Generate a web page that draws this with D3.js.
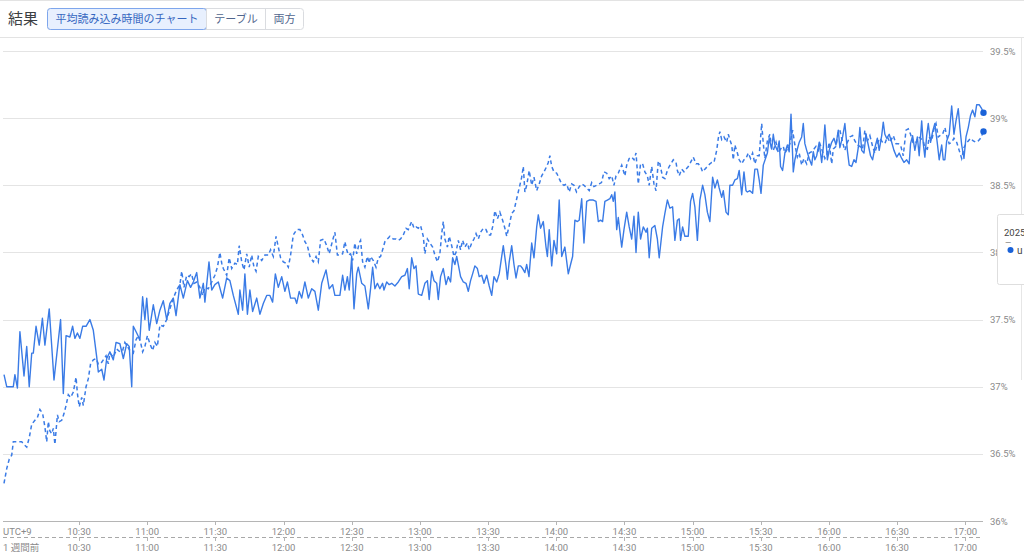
<!DOCTYPE html>
<html><head><meta charset="utf-8">
<script src="https://cdn.jsdelivr.net/npm/d3@7"></script>
<style>
html,body{margin:0;padding:0;background:#fff;overflow:hidden}
svg{display:block}
text{font-family:Roboto,"Noto Sans CJK JP",sans-serif}
</style></head><body>
<svg id="chart" width="1024" height="557"></svg>
<script>
const headerTitle = "結果";
const viewTabs = ["平均読み込み時間のチャート", "テーブル", "両方"];
const yTicks = [36, 36.5, 37, 37.5, 38, 38.5, 39, 39.5];
const xTickLabels = ["10:30","11:00","11:30","12:00","12:30","13:00","13:30","14:00","14:30","15:00","15:30","16:00","16:30","17:00"];
const timezoneLabel = "UTC+9";
const compareLabel = "1 週間前";
const legendYear = "2025";
const legendDash = "—";
const legendItem = "u";
const startTime = "09:57";
const endMinute = 431;
// [minutes after startTime, percent]
const currentSeries = [
[0,37.09],[1.2,37.00],[4.1,37.00],[4.8,37.09],[5.9,36.99],[7.0,37.41],[8.8,37.08],[10.0,37.30],[11.1,37.00],[12.2,37.25],[12.9,37.25],[14.1,37.45],[15.5,37.31],[16.9,37.51],[18.0,37.31],[19.9,37.58],[22.0,37.05],[24.9,37.50],[26.1,36.95],[27.3,37.38],[29.0,37.37],[30.2,37.45],[31.2,37.36],[32.3,37.40],[33.4,37.36],[34.6,37.45],[36.1,37.45],[37.8,37.50],[39.3,37.42],[40.8,37.22],[41.5,37.11],[43.0,37.13],[44.0,37.05],[45.2,37.21],[46.6,37.26],[48.1,37.20],[49.3,37.33],[51.0,37.32],[52.5,37.21],[54.0,37.32],[55.1,37.30],[56.2,37.00],[56.9,37.45],[58.4,37.40],[59.8,37.35],[61.0,37.67],[62.0,37.50],[62.8,37.66],[63.9,37.42],[65.7,37.61],[67.2,37.47],[68.6,37.57],[70.1,37.64],[71.6,37.50],[73.0,37.62],[74.5,37.66],[75.7,37.53],[77.4,37.76],[78.9,37.66],[80.7,37.79],[82.1,37.74],[83.3,37.78],[84.8,37.85],[86.2,37.66],[87.7,37.77],[88.4,37.63],[90.2,37.93],[91.4,37.72],[92.8,37.76],[94.3,37.78],[96.2,37.66],[98.0,37.81],[99.4,37.79],[100.9,37.68],[103.1,37.54],[103.8,37.72],[105.0,37.57],[106.0,37.84],[107.1,37.54],[108.2,37.72],[109.4,37.56],[111.2,37.66],[112.6,37.54],[114.1,37.62],[115.6,37.68],[117.0,37.68],[118.2,37.63],[119.4,37.84],[120.7,37.74],[122.2,37.82],[123.6,37.71],[124.7,37.78],[126.1,37.66],[128.0,37.66],[128.8,37.62],[129.9,37.71],[131.0,37.66],[132.4,37.78],[133.9,37.66],[135.4,37.73],[136.8,37.71],[138.3,37.57],[139.8,37.77],[141.7,37.87],[143.1,37.73],
[144.6,37.76],[145.6,37.68],[146.7,37.68],[147.8,37.68],[149.0,37.83],[150.0,37.72],[151.1,37.82],[151.9,37.72],[153.0,37.97],[154.0,37.58],[155.2,37.84],[155.9,37.89],[157.4,37.77],[158.8,37.75],[160.3,37.58],[161.3,37.73],[162.2,37.89],[163.2,37.73],[164.3,37.77],[165.4,37.73],[166.6,37.77],[167.2,37.72],[168.4,37.78],[169.5,37.76],[170.6,37.77],[172.0,37.75],[173.5,37.78],[175.0,37.82],[176.4,37.83],[177.5,37.88],[178.3,37.73],[179.4,37.96],[180.4,37.88],[181.3,37.90],[182.3,37.69],[183.8,37.68],[185.2,37.77],[186.3,37.79],[187.1,37.65],[188.2,37.86],[189.2,37.79],[190.4,37.77],[191.1,37.65],[192.1,37.82],[193.3,37.88],[194.5,37.76],[195.5,37.82],[196.5,37.78],[197.4,37.96],[198.4,37.91],[199.2,37.97],[199.9,37.91],[200.9,37.82],[202.1,37.78],[203.3,37.77],[204.3,37.71],[205.3,37.79],[206.2,37.84],[207.2,37.90],[208.3,37.88],[209.1,37.82],[210.2,37.83],[211.2,37.77],[212.4,37.83],[213.5,37.75],[214.6,37.68],[215.6,37.82],[216.8,37.78],[217.9,37.84],[219.0,37.97],[219.7,38.05],[220.9,37.90],[221.5,37.80],[222.3,37.93],[223.4,38.05],[224.4,37.91],[225.3,37.81],[226.3,37.90],[227.3,37.90],[228.2,37.88],[229.2,37.85],[230.0,37.91],[231.0,37.82],[232.2,38.07],[233.2,37.96],[234.4,38.19],[235.1,38.28],[236.1,38.18],[237.3,38.23],[238.5,38.04],[239.1,37.97],[239.9,38.17],[241.0,37.90],[242.0,38.09],[243.2,37.99],[244.3,38.39],[245.4,37.97],[246.8,38.04],[248.3,37.84],[249.3,37.91],[250.2,37.97],[251.2,38.24],[252.3,38.23],[253.1,38.24],[254.2,38.40],[255.2,38.07],[256.4,38.38],[257.5,38.39],[259.3,38.39],[260.5,38.38],[261.5,38.23],[262.5,38.24],[263.4,38.23],[264.4,38.38],[265.5,38.39],[266.6,38.40],[267.4,38.43],[268.1,38.38],[268.8,38.45],[269.6,38.17],[270.3,38.26],[271.8,38.04],[272.8,38.17],[274.0,38.30],[275.1,38.19],[276.2,38.10],[277.2,38.27],[278.1,38.00],[279.1,38.30],[280.1,38.10],[281.3,38.19],[282.5,38.15],[283.1,38.18],[283.9,37.96],[285.0,38.18],[286.4,38.20],[287.5,38.10],[288.3,37.96],
[289.8,38.19],[290.8,38.29],[291.9,38.39],[293.0,38.33],[294.2,38.34],[295.2,38.09],[296.3,38.24],[297.1,38.25],[297.7,38.09],[298.6,38.19],[299.6,38.12],[301.1,38.12],[302.1,38.38],[303.0,38.44],[304.0,38.34],[305.1,38.09],[306.2,38.39],[307.4,38.50],[308.4,38.43],[309.5,38.30],[310.6,38.23],[311.8,38.56],[312.8,38.48],[313.9,38.54],[314.7,38.48],[315.8,38.41],[316.5,38.46],[317.7,38.30],[318.7,38.28],[319.4,38.50],[320.6,38.50],[321.6,38.54],[322.7,38.55],[323.5,38.61],[324.6,38.43],[325.6,38.60],[326.5,38.46],[327.1,38.45],[328.2,38.46],[329.4,38.44],[330.4,38.62],[331.5,38.62],[332.3,38.54],[333.1,38.44],[334.1,38.65],[335.3,38.71],[335.9,38.74],[336.7,38.85],[337.8,38.77],[338.5,38.88],[339.2,38.80],[340.3,38.76],[341.1,38.83],[341.7,38.64],[342.6,38.61],[343.6,38.74],[344.7,38.80],[345.5,38.75],[346.3,39.03],[347.3,38.60],[348.0,38.69],[349.1,38.77],[349.9,38.82],[351.0,38.86],[351.7,38.96],[352.4,38.81],[353.2,38.76],[354.3,38.70],[355.4,38.65],[356.1,38.75],[356.8,38.69],[357.6,38.72],[358.7,38.82],[359.8,38.67],[360.5,38.78],[361.2,38.95],[362.3,38.69],[363.1,38.76],[364.2,38.82],[365.2,38.85],[366.1,38.80],[367.1,38.91],[367.8,38.78],[369.0,38.86],[370.0,38.96],[371.1,38.76],[371.9,38.65],[373.0,38.64],[374.0,38.69],[374.9,38.67],[375.9,38.78],[376.6,38.93],[377.4,38.76],[378.4,38.74],[379.3,38.88],[380.3,38.80],[381.3,38.72],[382.2,38.69],[383.2,38.78],[384.3,38.85],[385.1,38.76],[386.2,38.87],[386.9,38.97],[387.6,38.88],[388.4,38.85],[389.5,38.88],[390.6,38.82],[391.6,38.76],[392.8,38.71],[393.9,38.74],[395.0,38.70],[396.0,38.67],[397.2,38.69],[398.3,38.66],[398.9,38.81],[399.8,38.87],[400.8,38.76],[401.9,38.86],[402.7,38.72],[403.8,38.98],[404.5,38.81],[405.2,38.71],[406.0,38.87],[406.7,38.96],[407.7,38.82],[408.6,38.90],[409.6,38.96],[410.7,38.81],[411.5,38.69],[412.6,38.80],[413.3,38.69],[414.0,38.69],[414.8,38.83],[415.9,38.88],[417.0,39.09],[418.0,38.88],[418.9,38.98],[419.9,39.07],[420.6,38.93],[421.4,38.80],[422.4,38.70],[423.3,38.86],[424.3,38.93],[425.3,39.02],[426.2,39.06],[427.2,39.01],[428.0,39.10],[429.1,39.10],[430.2,39.07],[431,39.04]
];
const weekAgoSeries = [
[0,36.28],[1.2,36.39],[2.3,36.46],[3.4,36.49],[4.1,36.59],[6.3,36.59],[7.8,36.59],[8.8,36.57],[10.0,36.55],[11.1,36.62],[12.2,36.72],[13.6,36.75],[14.7,36.77],[15.8,36.83],[17.0,36.80],[18.0,36.70],[18.8,36.59],[19.5,36.74],[20.2,36.67],[21.0,36.65],[21.7,36.69],[22.4,36.57],[23.5,36.79],[24.3,36.74],[25.4,36.75],[26.4,36.80],[27.3,36.86],[28.3,36.94],[29.3,36.92],[30.5,36.96],[31.7,37.07],[32.3,36.95],[33.1,36.85],[34.2,36.92],[34.9,36.86],[36.1,37.00],[37.1,37.06],[38.1,37.17],[39.3,37.20],[40.5,37.21],[41.5,37.17],[42.5,37.17],[43.7,37.20],[44.9,37.23],[45.9,37.17],[46.6,37.25],[48.1,37.22],[49.6,37.28],[51.0,37.26],[52.2,37.27],[53.2,37.33],[54.3,37.30],[55.4,37.27],[56.9,37.25],[58.1,37.35],[59.1,37.38],[60.1,37.33],[61.0,37.26],[62.0,37.30],[63.1,37.38],[64.2,37.32],[65.4,37.27],[66.4,37.33],[67.5,37.30],[68.6,37.46],[70.1,37.45],[71.6,37.50],[73.0,37.58],[74.5,37.66],[76.0,37.72],[77.4,37.76],[78.2,37.86],[79.2,37.74],[80.4,37.83],[81.5,37.82],[82.5,37.84],[83.6,37.77],[84.8,37.78],[86.2,37.74],[87.4,37.68],[88.4,37.74],[89.9,37.73],[91.4,37.78],[92.8,37.83],[93.9,37.89],[95.0,38.00],[95.8,37.92],[96.5,37.88],[98.0,37.83],[99.1,37.96],[100.2,37.88],[101.6,37.92],[102.7,37.91],[103.5,38.05],[104.6,37.93],[105.6,37.87],[106.8,37.99],[107.9,37.89],[109.0,37.98],[110.0,37.89],[110.9,37.86],[111.9,37.97],[113.4,37.94],[114.8,37.98],[116.3,37.98],[117.3,38.02],[118.5,37.97],[119.7,38.12],[120.7,38.04],[121.7,37.96],[122.9,37.93],[124.1,37.92],[125.1,37.89],[126.1,37.98],[127.3,38.13],[128.8,38.17],[130.2,38.17],[131.4,38.13],[132.4,38.08],[133.5,38.05],[134.6,37.97],[136.1,37.93],[137.3,37.97],[138.3,37.93],[139.3,38.09],[140.8,38.10],[142.0,38.05],[143.1,37.99],
[144.6,38.09],[145.6,38.15],[146.7,37.98],[147.8,37.98],[149.0,37.99],[150.0,38.08],[150.8,38.02],[151.5,37.98],[152.5,37.99],[153.4,37.94],[154.4,38.07],[155.2,37.99],[156.3,38.07],[156.9,38.09],[157.8,37.93],[158.8,37.89],[159.9,37.97],[160.7,37.92],[161.3,37.97],[162.5,37.94],[163.7,37.89],[164.7,37.96],[165.7,37.97],[166.6,38.02],[167.6,38.08],[168.7,38.10],[169.8,38.12],[171.3,38.10],[172.5,38.10],[173.5,38.09],[174.5,38.10],[175.7,38.13],[176.9,38.18],[177.9,38.17],[178.6,38.20],[179.4,38.23],[180.4,38.18],[181.3,38.19],[182.3,38.18],[183.3,38.20],[184.5,38.12],[185.2,37.99],[186.3,38.10],[187.4,38.07],[188.6,38.04],[189.6,37.98],[190.7,37.93],[191.8,37.99],[192.6,38.14],[193.3,38.23],[194.0,38.10],[195.1,38.04],[195.9,38.12],[197.0,38.05],[198.0,37.97],[198.9,38.00],[199.9,38.09],[200.9,38.02],[201.8,38.09],[202.8,38.04],[203.9,38.07],[204.7,38.02],[205.8,38.07],[206.8,38.10],[207.7,38.14],[208.7,38.10],[209.7,38.15],[210.9,38.18],[212.1,38.17],[213.1,38.13],[214.1,38.13],[215.0,38.19],[216.0,38.31],[217.1,38.25],[218.2,38.30],[219.4,38.24],[220.4,38.18],[221.2,38.12],[222.3,38.20],[223.4,38.29],[224.4,38.31],[225.6,38.40],[226.7,38.48],[227.8,38.56],[228.5,38.64],[229.2,38.45],[230.0,38.50],[231.1,38.61],[232.2,38.50],[233.2,38.56],[234.4,38.46],[235.5,38.51],[236.6,38.57],[237.6,38.60],[238.8,38.64],[239.5,38.67],[240.2,38.72],[241.0,38.64],[242.0,38.60],[243.2,38.59],[244.3,38.55],[245.4,38.51],[246.4,38.50],[247.6,38.51],[248.7,38.45],[249.8,38.51],[250.8,38.50],[251.9,38.45],[253.1,38.49],[254.2,38.51],[255.2,38.50],[256.4,38.48],[257.5,38.46],[258.6,38.52],[259.6,38.49],[260.8,38.50],[261.9,38.51],[262.9,38.52],[264.0,38.60],[265.2,38.59],[266.3,38.55],[267.4,38.57],[268.4,38.50],[269.3,38.57],[270.3,38.59],[271.0,38.62],[271.8,38.65],[272.5,38.61],[273.2,38.57],[274.0,38.65],[275.1,38.70],[276.2,38.71],[277.2,38.69],[278.1,38.74],[279.1,38.51],[280.1,38.66],[281.0,38.66],[282.0,38.60],[283.1,38.57],[283.9,38.50],[285.0,38.64],[286.0,38.51],[286.9,38.46],[287.9,38.68],
[288.6,38.66],[289.8,38.56],[290.8,38.55],[291.9,38.61],[292.7,38.64],[293.8,38.67],[294.5,38.69],[295.7,38.67],[296.3,38.61],[297.1,38.57],[298.2,38.62],[299.2,38.60],[300.1,38.62],[301.1,38.64],[302.1,38.67],[303.3,38.71],[304.5,38.66],[305.5,38.66],[306.5,38.64],[307.4,38.60],[308.4,38.62],[309.5,38.64],[310.6,38.66],[311.4,38.67],[312.4,38.67],[313.6,38.76],[314.3,38.85],[315.0,38.90],[315.8,38.84],[316.8,38.86],[318.0,38.82],[318.7,38.88],[319.4,38.84],[320.2,38.80],[320.9,38.69],[321.6,38.80],[322.7,38.74],[323.5,38.69],[324.6,38.66],[325.6,38.69],[326.5,38.70],[327.5,38.74],[328.5,38.70],[329.4,38.74],[330.4,38.66],[331.5,38.72],[332.3,38.72],[333.4,38.96],[334.1,38.81],[334.8,38.70],[335.9,38.83],[337.0,38.88],[337.8,38.77],[338.5,38.76],[339.7,38.82],[340.7,38.74],[341.7,38.77],[342.9,38.79],[343.6,38.74],[344.7,38.77],[345.8,38.81],[347.0,38.91],[348.0,38.80],[349.1,38.71],[349.9,38.74],[351.0,38.65],[352.0,38.70],[353.2,38.66],[354.3,38.74],[355.4,38.75],[356.4,38.77],[357.3,38.79],[358.3,38.76],[359.0,38.81],[360.2,38.75],[361.2,38.70],[362.3,38.74],[363.1,38.82],[364.2,38.66],[364.9,38.77],[366.1,38.79],[367.1,38.90],[367.8,38.91],[369.0,38.82],[370.0,38.76],[371.1,38.82],[372.2,38.86],[373.4,38.87],[374.4,38.83],[375.5,38.80],[376.6,38.79],[377.8,38.77],[378.8,38.91],[379.9,38.83],[381.0,38.87],[382.2,38.79],[383.2,38.74],[384.3,38.81],[385.4,38.85],[386.6,38.82],[387.6,38.81],[388.7,38.86],[389.8,38.82],[391.3,38.87],[392.5,38.81],[393.5,38.81],[394.5,38.80],[395.7,38.72],[396.9,38.91],[397.9,38.92],[398.9,38.88],[400.1,38.81],[401.3,38.82],[402.3,38.86],[403.3,38.85],[404.5,38.83],[405.2,38.78],[406.3,38.77],[407.1,38.86],[408.2,38.83],[409.2,38.92],[410.1,38.96],[411.1,38.86],[411.8,38.87],[413.0,38.88],[414.0,38.93],[415.1,38.85],[415.9,38.81],[417.0,38.82],[418.0,38.85],[419.2,38.82],[420.3,38.76],[421.4,38.70],[422.4,38.78],[423.3,38.81],[424.3,38.83],[425.3,38.85],[426.5,38.83],[427.7,38.82],[428.7,38.83],[429.7,38.85],[431,38.90]
];

const svg = d3.select("#chart");
const LINE = "#3a7be6", DOT = "#1a62d8";

const parseHM = s => { const [h, m] = s.split(":").map(Number); return new Date(2025, 0, 1, h, m); };
const t0 = parseHM(startTime);
const atMin = m => new Date(t0.getTime() + m * 60000);

const x = d3.scaleTime().domain([t0, atMin(endMinute)]).range([4, 983.5]);
const y = d3.scaleLinear().domain([36, 39.5]).range([521, 51]);

// frame lines
svg.append("line").attr("x1", 0).attr("x2", 1024).attr("y1", 0.5).attr("y2", 0.5).attr("stroke", "#e3e3e3");
svg.append("line").attr("x1", 0).attr("x2", 1024).attr("y1", 37.5).attr("y2", 37.5).attr("stroke", "#e3e3e3");
svg.append("line").attr("x1", 1021.5).attr("x2", 1021.5).attr("y1", 38).attr("y2", 380).attr("stroke", "#e6e6e6");

// header
svg.append("text").attr("x", 8).attr("y", 24).attr("font-size", 15).attr("fill", "#3c4043").text(headerTitle);
const tabG = svg.append("g");
let tx = 47.5;
const tabRects = [];
viewTabs.forEach((label, i) => {
  const t = tabG.append("text").attr("y", 23).attr("font-size", 11)
    .attr("fill", i === 0 ? "#3566c0" : "#51668e").text(label);
  const w = t.node().getComputedTextLength();
  const bw = Math.round(w + 16);
  tabRects.push({x: tx, w: bw, sel: i === 0});
  t.attr("x", tx + bw / 2).attr("text-anchor", "middle");
  tx += bw;
});
tabG.insert("rect", "text").attr("x", 47.5).attr("y", 8.5).attr("width", tx - 47.5).attr("height", 21).attr("rx", 3)
  .attr("fill", "#fff").attr("stroke", "#dadce0");
tabRects.forEach(r => {
  if (r.sel) {
    tabG.insert("rect", "text").attr("x", r.x).attr("y", 8.5).attr("width", r.w).attr("height", 21).attr("rx", 3)
      .attr("fill", "#e8f0fe").attr("stroke", "#7ea6ec");
  } else {
    tabG.insert("line", "text").attr("x1", r.x).attr("x2", r.x).attr("y1", 9).attr("y2", 29).attr("stroke", "#dadce0");
  }
});

// gridlines + y labels
svg.append("g").selectAll("line").data(yTicks.filter(v => v !== 36)).join("line")
  .attr("x1", 3).attr("x2", 983).attr("y1", d => Math.round(y(d)) + 0.5).attr("y2", d => Math.round(y(d)) + 0.5)
  .attr("stroke", "#e4e4e4");
svg.append("g").selectAll("text").data(yTicks).join("text")
  .attr("x", 990).attr("y", d => y(d) + 3.5).attr("font-size", 9.5).attr("fill", "#8a8a8a")
  .text(d => d + "%");

// x axis (two rows)
const xTicks = xTickLabels.map(parseHM);
svg.append("line").attr("x1", 3).attr("x2", 983).attr("y1", 521.5).attr("y2", 521.5).attr("stroke", "#b5b5b5");
svg.append("line").attr("x1", 3).attr("x2", 983).attr("y1", 537.5).attr("y2", 537.5)
  .attr("stroke", "#a8a8a8").attr("stroke-dasharray", "4,3");
const axG = svg.append("g");
axG.selectAll(".t1").data(xTicks).join("line").attr("class", "t1")
  .attr("x1", d => Math.round(x(d)) + 0.5).attr("x2", d => Math.round(x(d)) + 0.5).attr("y1", 521).attr("y2", 525).attr("stroke", "#b5b5b5");
axG.selectAll(".t2").data(xTicks).join("line").attr("class", "t2")
  .attr("x1", d => Math.round(x(d)) + 0.5).attr("x2", d => Math.round(x(d)) + 0.5).attr("y1", 537).attr("y2", 541).attr("stroke", "#b5b5b5");
axG.selectAll(".l1").data(xTickLabels).join("text").attr("class", "l1")
  .attr("x", (d, i) => x(xTicks[i])).attr("y", 535).attr("text-anchor", "middle")
  .attr("font-size", 9.5).attr("fill", "#8a8a8a").text(d => d);
axG.selectAll(".l2").data(xTickLabels).join("text").attr("class", "l2")
  .attr("x", (d, i) => x(xTicks[i])).attr("y", 551).attr("text-anchor", "middle")
  .attr("font-size", 9.5).attr("fill", "#8a8a8a").text(d => d);
svg.append("text").attr("x", 3).attr("y", 535).attr("font-size", 9.5).attr("fill", "#8a8a8a").text(timezoneLabel);
svg.append("text").attr("x", 3).attr("y", 551).attr("font-size", 9.5).attr("fill", "#8a8a8a").text(compareLabel);

// lines
const line = d3.line().x(d => x(atMin(d[0]))).y(d => y(d[1]));
svg.append("path").datum(weekAgoSeries).attr("d", line).attr("fill", "none")
  .attr("stroke", LINE).attr("stroke-width", 1.5).attr("stroke-dasharray", "4,3");
svg.append("path").datum(currentSeries).attr("d", line).attr("fill", "none")
  .attr("stroke", LINE).attr("stroke-width", 1.4).attr("stroke-linejoin", "round");

// end dots
[currentSeries, weekAgoSeries].forEach(s => {
  const last = s[s.length - 1];
  svg.append("circle").attr("cx", x(atMin(last[0]))).attr("cy", y(last[1])).attr("r", 3.2).attr("fill", DOT);
});

// partial legend card (clipped by the right edge, as in the source)
const lg = svg.append("g");
lg.append("rect").attr("x", 997.5).attr("y", 214.5).attr("width", 40).attr("height", 70).attr("rx", 2)
  .attr("fill", "#fff").attr("stroke", "#dedede");
lg.append("text").attr("x", 1004).attr("y", 236).attr("font-size", 9.5).attr("fill", "#444").text(legendYear);
lg.append("text").attr("x", 1005).attr("y", 245).attr("font-size", 8).attr("fill", "#666").text(legendDash);
lg.append("circle").attr("cx", 1010.5).attr("cy", 250).attr("r", 3).attr("fill", DOT);
lg.append("text").attr("x", 1017).attr("y", 253.5).attr("font-size", 10).attr("fill", "#444").text(legendItem);
</script>
</body></html>
